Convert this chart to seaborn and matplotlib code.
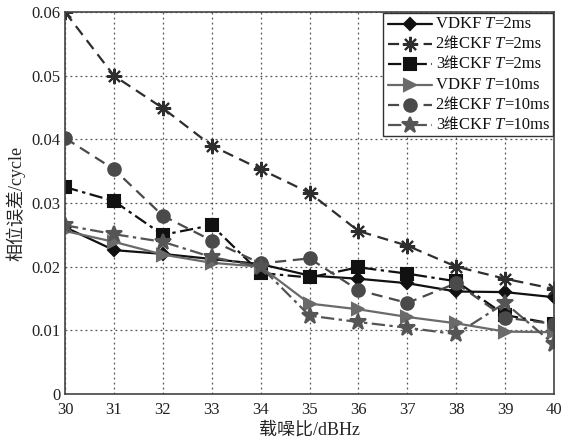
import matplotlib
matplotlib.use("Agg")
import matplotlib.pyplot as plt
import seaborn as sns
import numpy as np
from matplotlib.lines import Line2D
from matplotlib.offsetbox import TextArea, HPacker, VPacker, AnchoredOffsetbox, DrawingArea

snr = [30, 31, 32, 33, 34, 35, 36, 37, 38, 39, 40]
vdkf_2 = [0.0262, 0.0226, 0.0220, 0.0212, 0.0204, 0.0186, 0.0181, 0.0174, 0.0161, 0.0160, 0.0152]
ckf2_2 = [0.0600, 0.0500, 0.0449, 0.0390, 0.0353, 0.0316, 0.0256, 0.0233, 0.0200, 0.0181, 0.0165]
ckf3_2 = [0.0325, 0.0303, 0.0250, 0.0265, 0.0190, 0.0183, 0.0199, 0.0189, 0.0177, 0.0124, 0.0110]
vdkf_10 = [0.0256, 0.0239, 0.0219, 0.0206, 0.0200, 0.0142, 0.0133, 0.0121, 0.0111, 0.0098, 0.0097]
ckf2_10 = [0.0402, 0.0353, 0.0280, 0.0241, 0.0205, 0.0213, 0.0163, 0.0143, 0.0174, 0.0120, 0.0110]
ckf3_10 = [0.0265, 0.0251, 0.0239, 0.0215, 0.0200, 0.0123, 0.0113, 0.0104, 0.0094, 0.0143, 0.0078]
label_pre = ["VDKF ", "2维CKF ", "3维CKF ", "VDKF ", "2维CKF ", "3维CKF "]
label_post = ["=2ms", "=2ms", "=2ms", "=10ms", "=10ms", "=10ms"]
xticks = [30, 31, 32, 33, 34, 35, 36, 37, 38, 39, 40]
yticks = [0, 0.01, 0.02, 0.03, 0.04, 0.05, 0.06]

sns.set_style("white")
fam = ['Liberation Serif', 'Noto Sans CJK SC']
plt.rcParams['font.family'] = fam
plt.rcParams['axes.unicode_minus'] = False

fig = plt.figure(figsize=(5.61, 4.41), dpi=100)
ax = fig.add_axes([0.1159, 0.1066, 0.8716, 0.8662])

series = [
    (vdkf_2, '#111111', '-', 'D', 6),
    (ckf2_2, '#2e2e2e', (0, (5, 3)), (8, 2, 0), 11),
    (ckf3_2, '#111111', (0, (6, 2, 1.5, 2)), 's', 8),
    (vdkf_10, '#6a6a6a', '-', '>', 9),
    (ckf2_10, '#4a4a4a', (0, (5, 3)), 'o', 9),
    (ckf3_10, '#555555', (0, (6, 2, 1.5, 2)), '*', 12),
]
for (vals, col, ls, mk, ms), pre, post in zip(series, label_pre, label_post):
    sns.lineplot(x=snr, y=vals, ax=ax, color=col, linestyle=ls, marker=mk,
                 markersize=ms, markeredgecolor=col, markerfacecolor=col,
                 markeredgewidth=1.5, linewidth=1.6, label=pre + "T" + post, legend=False)

ax.set_xlim(30, 40)
ax.set_ylim(0, 0.06)
ax.set_xticks(xticks)
ax.set_yticks(yticks)
ax.set_yticklabels(['0', '0.01', '0.02', '0.03', '0.04', '0.05', '0.06'])
ax.tick_params(direction='in', labelsize=12, length=4, colors='#222222')
ax.tick_params(axis='x', pad=6)
ax.grid(True, linestyle=(0, (1.5, 2.5)), color='#555555', linewidth=0.9)
for s in ax.spines.values():
    s.set_color('#444444')
    s.set_linewidth(1.2)
ax.set_xlabel('载噪比/dBHz', fontsize=13, labelpad=2)
ax.set_ylabel('相位误差/cycle', fontsize=13, labelpad=4)

# custom legend with italic T
fs = 12
fs_cjk = 10.5


def runs(s):
    out, cur, cj = [], "", None
    for ch in s:
        c = ord(ch) > 127
        if cj is None or c == cj:
            cur += ch
        else:
            out.append((cur, cj))
            cur = ch
        cj = c
    if cur:
        out.append((cur, cj))
    return out


rows = []
for (vals, col, ls, mk, ms), pre, post in zip(series, label_pre, label_post):
    da = DrawingArea(34, 10, 0, 0)
    da.add_artist(Line2D([1, 33], [5, 5], color=col, linestyle=ls, linewidth=1.6))
    da.add_artist(Line2D([17], [5], color=col, marker=mk, markersize=ms,
                         markeredgecolor=col, markerfacecolor=col, markeredgewidth=1.5))
    parts = []
    for txt, cj in runs(pre):
        parts.append(TextArea(txt, textprops=dict(fontsize=fs_cjk if cj else fs,
                                                  family=fam, color='#111111')))
    parts.append(TextArea("T", textprops=dict(fontsize=fs, family=fam, style='italic', color='#111111')))
    parts.append(TextArea(post, textprops=dict(fontsize=fs, family=fam, color='#111111')))
    txtbox = HPacker(children=parts, align='baseline', pad=0, sep=0)
    rows.append(HPacker(children=[da, txtbox], align='center', pad=0, sep=1.5))
vp = VPacker(children=rows, align='left', pad=0, sep=3)
box = AnchoredOffsetbox(loc='upper right', child=vp, pad=0.25, borderpad=0.05,
                        frameon=True, bbox_to_anchor=(1, 1), bbox_transform=ax.transAxes)
box.patch.set_edgecolor('#333333')
box.patch.set_facecolor('white')
box.patch.set_linewidth(1.0)
box.patch.set_boxstyle('square', pad=0)
ax.add_artist(box)

fig.savefig('out.png', dpi=100)
